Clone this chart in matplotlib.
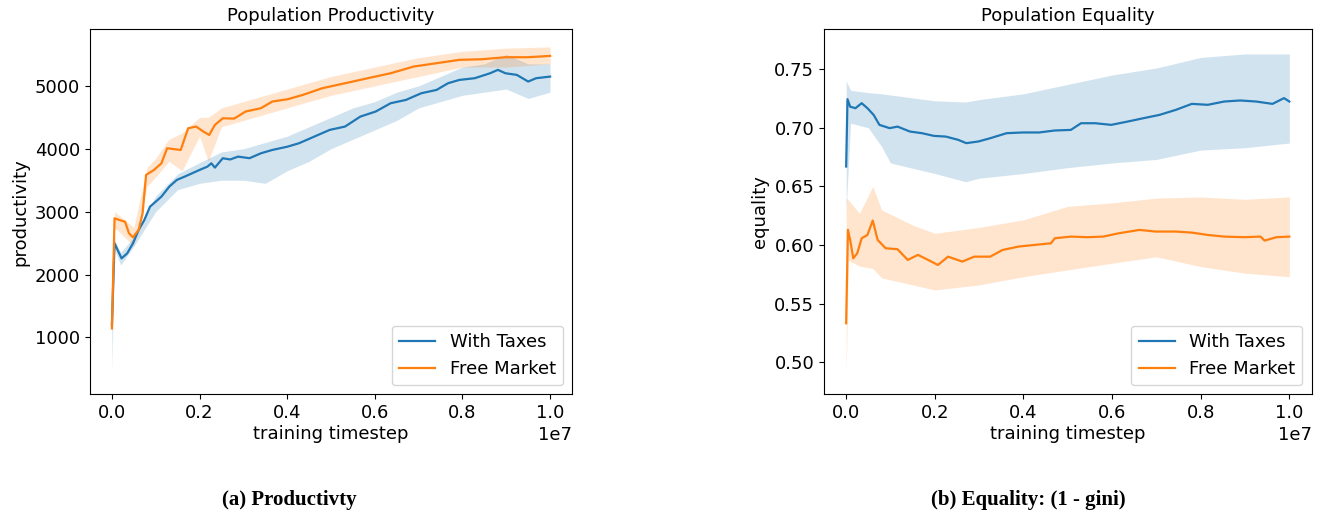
import numpy as np
import matplotlib
matplotlib.use("Agg")
import matplotlib.pyplot as plt

# ---------------- Productivity data (x in units of 1e7 timesteps) ----------------
prod_tax_t = [0.0, 0.006, 0.022, 0.035, 0.048, 0.061, 0.074, 0.087, 0.1, 0.113, 0.131, 0.148,
              0.166, 0.183, 0.2, 0.218, 0.227, 0.235, 0.253, 0.27, 0.288, 0.314, 0.34, 0.366,
              0.401, 0.427, 0.462, 0.497, 0.532, 0.567, 0.602, 0.636, 0.671, 0.706, 0.741,
              0.767, 0.793, 0.828, 0.863, 0.881, 0.898, 0.924, 0.95, 0.968, 1.0]
prod_tax = [1200, 2496, 2257, 2337, 2496, 2708, 2867, 3080, 3159, 3239, 3398, 3504,
            3557, 3610, 3663, 3716, 3769, 3700, 3849, 3830, 3875, 3850, 3928, 3981,
            4034, 4088, 4194, 4300, 4353, 4512, 4592, 4724, 4777, 4883, 4936,
            5042, 5095, 5122, 5201, 5255, 5201, 5175, 5069, 5122, 5148]
prod_tax_band_t = [0.0, 0.006, 0.02, 0.05, 0.1, 0.15, 0.2, 0.25, 0.3, 0.35, 0.4, 0.45, 0.5,
                   0.55, 0.6, 0.65, 0.7, 0.75, 0.8, 0.85, 0.9, 0.95, 1.0]
prod_tax_hi = [1300, 2550, 2350, 2600, 3250, 3600, 3780, 3950, 4000, 4100, 4200, 4350, 4500,
               4650, 4750, 4900, 5000, 5150, 5300, 5350, 5500, 5350, 5350]
prod_tax_lo = [450, 2400, 2150, 2450, 3000, 3350, 3450, 3500, 3500, 3450, 3650, 3800, 4000,
               4150, 4300, 4450, 4650, 4750, 4850, 4900, 4950, 4800, 4900]

prod_free_t = [0.0, 0.006, 0.017, 0.03, 0.039, 0.048, 0.061, 0.07, 0.078, 0.096, 0.113, 0.126,
               0.157, 0.174, 0.192, 0.209, 0.222, 0.235, 0.253, 0.279, 0.305, 0.34, 0.366,
               0.401, 0.436, 0.48, 0.532, 0.584, 0.636, 0.689, 0.741, 0.793, 0.845, 0.898,
               0.95, 1.0]
prod_free = [1143, 2894, 2867, 2840, 2655, 2592, 2708, 2973, 3584, 3663, 3769, 4008,
             3981, 4326, 4353, 4273, 4220, 4379, 4485, 4480, 4592, 4645, 4751,
             4788, 4857, 4963, 5042, 5122, 5201, 5308, 5361, 5414, 5424, 5456,
             5456, 5477]
prod_free_band_t = [0.0, 0.006, 0.05, 0.08, 0.1, 0.13, 0.16, 0.2, 0.22, 0.25, 0.3, 0.4, 0.5,
                    0.6, 0.7, 0.8, 0.9, 1.0]
prod_free_hi = [1300, 3000, 2750, 3700, 3850, 4150, 4250, 4500, 4500, 4650, 4750, 4950, 5150,
                5300, 5450, 5550, 5600, 5620]
prod_free_lo = [900, 2750, 2450, 3400, 3550, 3800, 3650, 4200, 3800, 4350, 4450, 4650, 4850,
                5000, 5150, 5300, 5300, 5350]

# ---------------- Equality data ----------------
eq_tax_t = [0.0, 0.003, 0.009, 0.021, 0.035, 0.048, 0.062, 0.075, 0.098, 0.116, 0.144, 0.171,
            0.198, 0.225, 0.253, 0.271, 0.298, 0.325, 0.362, 0.398, 0.435, 0.471, 0.507, 0.53,
            0.562, 0.598, 0.635, 0.671, 0.707, 0.744, 0.78, 0.816, 0.853, 0.889, 0.925, 0.962,
            0.988, 1.0]
eq_tax = [0.667, 0.7244, 0.718, 0.7167, 0.721, 0.7167, 0.711, 0.7025, 0.6997, 0.701, 0.6968,
          0.6954, 0.6931, 0.6925, 0.6897, 0.6869, 0.6883, 0.6911, 0.6954, 0.696, 0.696, 0.6977,
          0.6982, 0.7039, 0.7039, 0.7025, 0.7053, 0.7082, 0.711, 0.7153, 0.7204, 0.7196, 0.7224,
          0.7233, 0.7224, 0.7204, 0.7253, 0.7224]
eq_tax_band_t = [0.0, 0.01, 0.05, 0.08, 0.1, 0.2, 0.27, 0.3, 0.4, 0.5, 0.6, 0.7, 0.8, 0.9, 1.0]
eq_tax_hi = [0.74, 0.732, 0.730, 0.729, 0.728, 0.723, 0.722, 0.724, 0.729, 0.737, 0.745,
             0.751, 0.760, 0.763, 0.763]
eq_tax_lo = [0.63, 0.704, 0.700, 0.684, 0.670, 0.661, 0.654, 0.657, 0.661, 0.666, 0.670,
             0.673, 0.681, 0.683, 0.687]

eq_free_t = [0.0, 0.004, 0.009, 0.016, 0.025, 0.035, 0.048, 0.06, 0.071, 0.089, 0.116, 0.139,
             0.162, 0.185, 0.207, 0.23, 0.262, 0.289, 0.325, 0.353, 0.389, 0.425, 0.462, 0.471,
             0.507, 0.544, 0.58, 0.616, 0.662, 0.698, 0.744, 0.78, 0.816, 0.853, 0.898, 0.935,
             0.944, 0.971, 1.0]
eq_free = [0.5333, 0.613, 0.6044, 0.5887, 0.593, 0.6058, 0.6086, 0.6209, 0.6044, 0.5973,
           0.5964, 0.5873, 0.5916, 0.5873, 0.583, 0.5901, 0.5859, 0.5901, 0.5901, 0.5958,
           0.5987, 0.6001, 0.6015, 0.6058, 0.6072, 0.6067, 0.6072, 0.6101, 0.6129, 0.6115,
           0.6115, 0.6106, 0.6086, 0.6072, 0.6067, 0.6072, 0.6038, 0.6067, 0.6072]
eq_free_band_t = [0.0, 0.005, 0.03, 0.06, 0.08, 0.15, 0.2, 0.3, 0.4, 0.5, 0.6, 0.7, 0.8, 0.9, 1.0]
eq_free_hi = [0.64, 0.6385, 0.627, 0.650, 0.630, 0.617, 0.610, 0.615, 0.6215, 0.633, 0.636,
              0.640, 0.641, 0.639, 0.641]
eq_free_lo = [0.49, 0.587, 0.582, 0.580, 0.572, 0.566, 0.5617, 0.566, 0.573, 0.5788, 0.5845,
              0.590, 0.5816, 0.576, 0.573]

series_labels = ["With Taxes", "Free Market"]
titles = ["Population Productivity", "Population Equality"]
ylabels = ["productivity", "equality"]
captions = ["(a) Productivty", "(b) Equality: (1 - gini)"]

SCALE = 1e7
FS = 13
fig = plt.figure(figsize=(13.32, 5.16), dpi=100)
ax1 = fig.add_axes([90 / 1332, 1 - 394.3 / 516, 482 / 1332, 365 / 516])
ax2 = fig.add_axes([824 / 1332, 1 - 394.3 / 516, 487.5 / 1332, 365 / 516])

c_blue, c_orange = "#1f77b4", "#ff7f0e"

def draw(ax, t1, y1, bt1, hi1, lo1, t2, y2, bt2, hi2, lo2):
    ax.fill_between(np.array(bt1) * SCALE, lo1, hi1, color=c_blue, alpha=0.2, linewidth=0)
    ax.fill_between(np.array(bt2) * SCALE, lo2, hi2, color=c_orange, alpha=0.2, linewidth=0)
    ax.plot(np.array(t1) * SCALE, y1, color=c_blue, lw=1.6, label=series_labels[0])
    ax.plot(np.array(t2) * SCALE, y2, color=c_orange, lw=1.6, label=series_labels[1])

draw(ax1, prod_tax_t, prod_tax, prod_tax_band_t, prod_tax_hi, prod_tax_lo,
     prod_free_t, prod_free, prod_free_band_t, prod_free_hi, prod_free_lo)
draw(ax2, eq_tax_t, eq_tax, eq_tax_band_t, eq_tax_hi, eq_tax_lo,
     eq_free_t, eq_free, eq_free_band_t, eq_free_hi, eq_free_lo)

ax1.set_ylim(95, 5900)
ax1.set_yticks([1000, 2000, 3000, 4000, 5000])
ax2.set_ylim(0.4727, 0.784)
ax2.set_yticks([0.50, 0.55, 0.60, 0.65, 0.70, 0.75])

for ax, ttl, yl in zip([ax1, ax2], titles, ylabels):
    ax.set_xlim(-0.05 * SCALE, 1.05 * SCALE)
    ax.set_xticks(np.array([0.0, 0.2, 0.4, 0.6, 0.8, 1.0]) * SCALE)
    ax.set_title(ttl, fontsize=FS)
    ax.set_xlabel("training timestep", fontsize=FS, labelpad=2)
    ax.set_ylabel(yl, fontsize=FS, labelpad=4)
    ax.tick_params(labelsize=FS)
    ax.xaxis.get_offset_text().set_fontsize(FS)
    ax.legend(loc="lower right", fontsize=FS, handlelength=2.0)

ax2.yaxis.set_major_formatter(matplotlib.ticker.FormatStrFormatter("%.2f"))

fig.text(289 / 1332, 1 - 505 / 516, captions[0], ha="center", va="baseline", fontsize=15,
         fontweight="bold", family="Liberation Serif")
fig.text(1028 / 1332, 1 - 505 / 516, captions[1], ha="center", va="baseline", fontsize=15,
         fontweight="bold", family="Liberation Serif")

fig.savefig("out.png", dpi=100)
